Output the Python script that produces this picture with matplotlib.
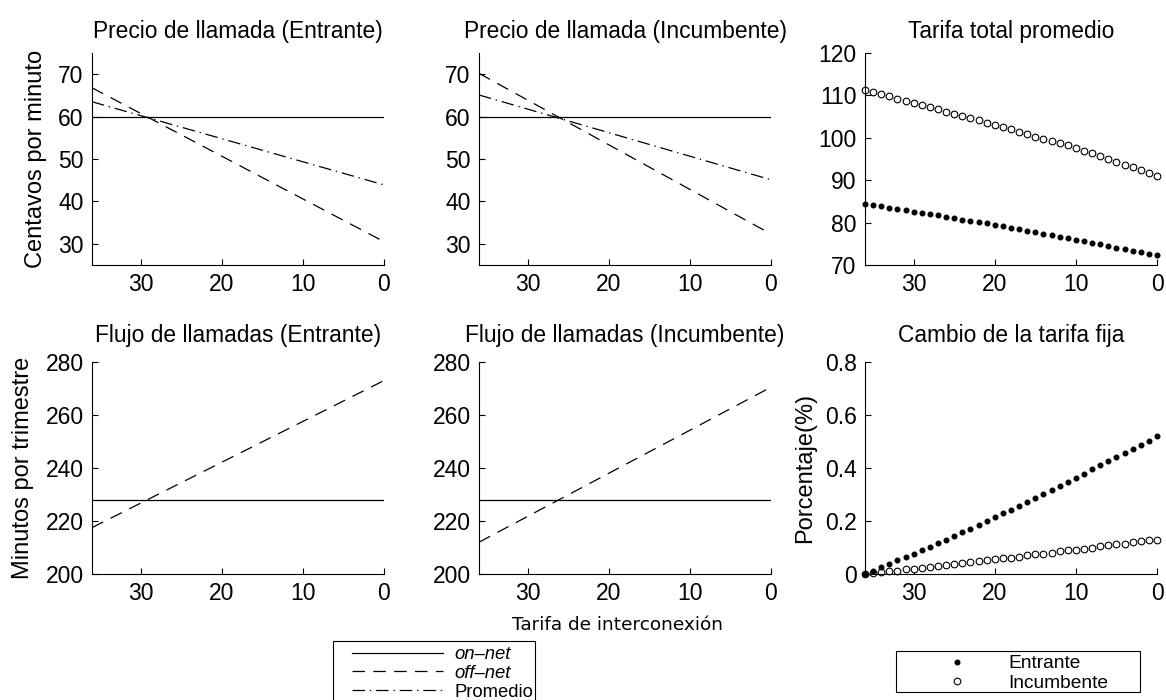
import numpy as np
import matplotlib
matplotlib.use("Agg")
import matplotlib.pyplot as plt
from matplotlib.patches import Rectangle

plt.rcParams["font.family"] = ["Liberation Sans", "DejaVu Sans"]
plt.rcParams["lines.scale_dashes"] = False

# tarifa de interconexion (eje x, invertido)
x_line = [36, 0]
x_pts = list(range(36, -1, -1))

# precio de llamada (centavos por minuto)
precio_on_ent = [60, 60]
precio_off_ent = [66.8, 30.5]
precio_prom_ent = [63.5, 43.9]
precio_on_inc = [60, 60]
precio_off_inc = [70.2, 32.3]
precio_prom_inc = [65.1, 45.1]

# flujo de llamadas (minutos por trimestre)
flujo_on_ent = [228, 228]
flujo_off_ent = [217.5, 273.0]
flujo_on_inc = [228, 228]
flujo_off_inc = [212.0, 270.5]

# tarifa total promedio, x = 36..0
tarifa_ent = [84.4, 84.1, 83.8, 83.5, 83.2, 82.9, 82.6, 82.3, 82.0, 81.7,
              81.4, 81.1, 80.7, 80.4, 80.1, 79.8, 79.4, 79.1, 78.8, 78.4,
              78.1, 77.7, 77.4, 77.0, 76.7, 76.3, 76.0, 75.6, 75.2, 74.9,
              74.5, 74.1, 73.8, 73.4, 73.0, 72.7, 72.3]
tarifa_inc = [111.3, 110.8, 110.3, 109.8, 109.2, 108.7, 108.2, 107.7, 107.2, 106.7,
              106.1, 105.6, 105.1, 104.6, 104.1, 103.6, 103.0, 102.5, 102.0, 101.4,
              100.9, 100.3, 99.8, 99.3, 98.7, 98.2, 97.6, 96.9, 96.3, 95.6,
              95.0, 94.3, 93.7, 93.0, 92.4, 91.7, 91.1]

# cambio de la tarifa fija (%), x = 36..0
cambio_ent = [0.000, 0.012, 0.025, 0.038, 0.051, 0.064, 0.077, 0.090, 0.103, 0.117,
              0.130, 0.144, 0.157, 0.171, 0.185, 0.200, 0.214, 0.229, 0.243, 0.258,
              0.273, 0.288, 0.303, 0.318, 0.333, 0.348, 0.364, 0.379, 0.395, 0.410,
              0.426, 0.441, 0.457, 0.472, 0.488, 0.503, 0.519]
cambio_inc = [0.000, 0.003, 0.007, 0.010, 0.013, 0.017, 0.020, 0.023, 0.027, 0.030,
              0.034, 0.037, 0.041, 0.044, 0.048, 0.051, 0.055, 0.059, 0.062, 0.066,
              0.070, 0.074, 0.077, 0.081, 0.085, 0.089, 0.092, 0.096, 0.100, 0.104,
              0.108, 0.112, 0.115, 0.119, 0.123, 0.127, 0.130]

W, H = 1166, 700
fig = plt.figure(figsize=(W / 100, H / 100), dpi=100)

cols = [92, 479, 865]
rows = [(53, 265), (362, 574)]
axw = 292
TITLE_FS = 16.4
LABEL_FS = 17
TITLE_PAD = [11, 14.5]


def make_ax(col, row):
    top, bot = rows[row]
    ax = fig.add_axes([cols[col] / W, 1 - bot / H, axw / W, (bot - top) / H])
    ax.spines["top"].set_visible(False)
    ax.spines["right"].set_visible(False)
    for s in ("left", "bottom"):
        ax.spines[s].set_linewidth(0.8)
    ax.tick_params(direction="in", length=4, width=0.8, labelsize=16.5, pad=6)
    ax.set_xlim(36, 0)
    ax.set_xticks([30, 20, 10, 0])
    return ax


DASH = (0, (9, 6))
DASHDOT = (0, (9, 3.5, 1, 3.5))
LW = 0.9
MS_OPEN = 4.8
MS_DOT = 3.3

ax1 = make_ax(0, 0)
h_on, = ax1.plot(x_line, precio_on_ent, color="k", lw=LW, ls="-")
h_off, = ax1.plot(x_line, precio_off_ent, color="k", lw=LW, ls=DASH)
h_prom, = ax1.plot(x_line, precio_prom_ent, color="k", lw=LW, ls=DASHDOT)
ax1.set_ylim(25, 75)
ax1.set_yticks([30, 40, 50, 60, 70])
ax1.set_title("Precio de llamada (Entrante)", fontsize=TITLE_FS, pad=TITLE_PAD[0])
ax1.set_ylabel("Centavos por minuto", fontsize=LABEL_FS, labelpad=8)

ax2 = make_ax(1, 0)
ax2.plot(x_line, precio_on_inc, color="k", lw=LW, ls="-")
ax2.plot(x_line, precio_off_inc, color="k", lw=LW, ls=DASH)
ax2.plot(x_line, precio_prom_inc, color="k", lw=LW, ls=DASHDOT)
ax2.set_ylim(25, 75)
ax2.set_yticks([30, 40, 50, 60, 70])
ax2.set_title("Precio de llamada (Incumbente)", fontsize=TITLE_FS, pad=TITLE_PAD[0])

ax3 = make_ax(2, 0)
ax3.plot(x_pts, tarifa_inc, ls="none", marker="o", ms=MS_OPEN, mfc="white",
         mec="k", mew=0.8, clip_on=False)
ax3.plot(x_pts, tarifa_ent, ls="none", marker="o", ms=MS_DOT, mfc="k",
         mec="k", clip_on=False)
ax3.set_ylim(70, 120)
ax3.set_yticks([70, 80, 90, 100, 110, 120])
ax3.set_title("Tarifa total promedio", fontsize=TITLE_FS, pad=TITLE_PAD[0])

ax4 = make_ax(0, 1)
ax4.plot(x_line, flujo_on_ent, color="k", lw=LW, ls="-")
ax4.plot(x_line, flujo_off_ent, color="k", lw=LW, ls=DASH)
ax4.set_ylim(200, 280)
ax4.set_yticks([200, 220, 240, 260, 280])
ax4.set_title("Flujo de llamadas (Entrante)", fontsize=TITLE_FS, pad=TITLE_PAD[1])
ax4.set_ylabel("Minutos por trimestre", fontsize=LABEL_FS, labelpad=8)

ax5 = make_ax(1, 1)
ax5.plot(x_line, flujo_on_inc, color="k", lw=LW, ls="-")
ax5.plot(x_line, flujo_off_inc, color="k", lw=LW, ls=DASH)
ax5.set_ylim(200, 280)
ax5.set_yticks([200, 220, 240, 260, 280])
ax5.set_title("Flujo de llamadas (Incumbente)", fontsize=TITLE_FS, pad=TITLE_PAD[1])
ax5.set_xlabel("Tarifa de interconexión", fontsize=13.3, family="DejaVu Sans")
ax5.xaxis.set_label_coords(0.473, -0.198)

ax6 = make_ax(2, 1)
h_inc, = ax6.plot(x_pts, cambio_inc, ls="none", marker="o", ms=MS_OPEN, mfc="white",
                  mec="k", mew=0.8, clip_on=False)
h_ent, = ax6.plot(x_pts, cambio_ent, ls="none", marker="o", ms=MS_DOT, mfc="k",
                  mec="k", clip_on=False)
ax6.set_ylim(0, 0.8)
ax6.set_yticks([0, 0.2, 0.4, 0.6, 0.8])
ax6.set_yticklabels(["0", "0.2", "0.4", "0.6", "0.8"])
ax6.set_title("Cambio de la tarifa fija", fontsize=TITLE_FS, pad=TITLE_PAD[1])
ax6.set_ylabel("Porcentaje(%)", fontsize=LABEL_FS, labelpad=6)

# legend boxes drawn as plain rectangles, entries as frameless legends
fig.patches.append(Rectangle((333 / W, 1 - 702 / H), 202 / W, 61 / H,
                             transform=fig.transFigure, fill=False,
                             edgecolor="k", lw=0.8))
fig.patches.append(Rectangle((896 / W, 1 - 692 / H), 244 / W, 41 / H,
                             transform=fig.transFigure, fill=False,
                             edgecolor="k", lw=0.8))

leg1 = fig.legend([h_on, h_off, h_prom], ["on\u2013net", "off\u2013net", "Promedio"],
                  loc="upper left", bbox_to_anchor=(352 / W, 1 - 646 / H),
                  fontsize=13.3, frameon=False, handlelength=4.9,
                  handletextpad=0.65, labelspacing=0.1, borderpad=0,
                  borderaxespad=0)
for t in leg1.get_texts()[:2]:
    t.set_style("italic")

leg2 = fig.legend([h_ent, h_inc], ["Entrante", "Incumbente"],
                  loc="upper left", bbox_to_anchor=(937 / W, 1 - 655 / H),
                  fontsize=13.8, frameon=False, handlelength=2.1,
                  handletextpad=1.6, labelspacing=0.1, borderpad=0,
                  borderaxespad=0)

fig.savefig("out.png", dpi=100)
